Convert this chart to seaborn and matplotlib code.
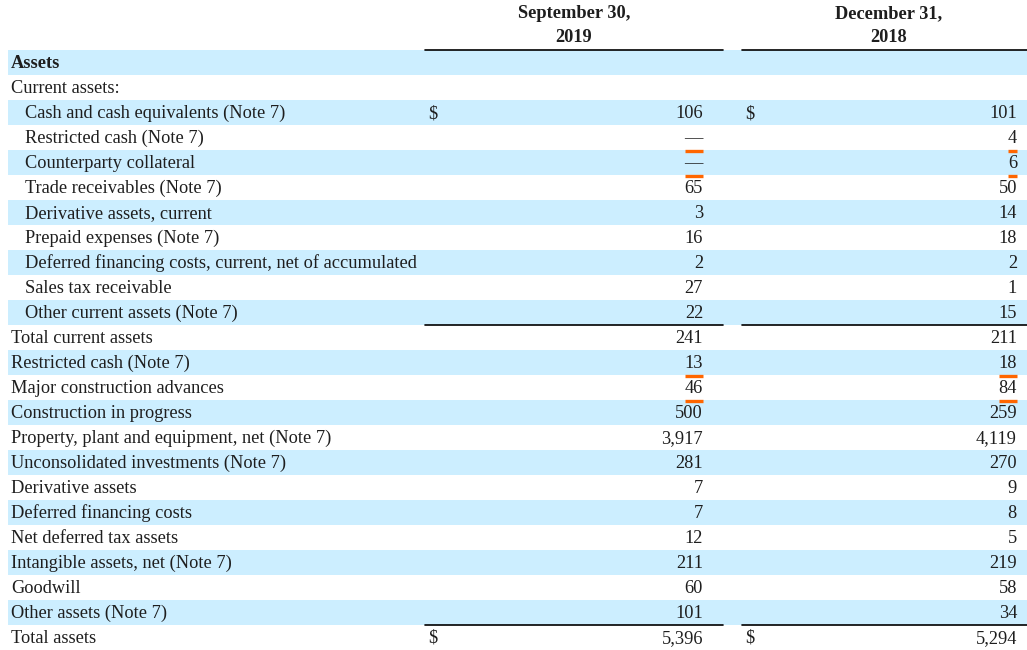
import matplotlib.pyplot as plt
import seaborn as sns

# Balance sheet rows (Assets section)
labels = [
    "Assets",
    "Current assets:",
    "Cash and cash equivalents (Note 7)",
    "Restricted cash (Note 7)",
    "Counterparty collateral",
    "Trade receivables (Note 7)",
    "Derivative assets, current",
    "Prepaid expenses (Note 7)",
    "Deferred financing costs, current, net of accumulated",
    "Sales tax receivable",
    "Other current assets (Note 7)",
    "Total current assets",
    "Restricted cash (Note 7)",
    "Major construction advances",
    "Construction in progress",
    "Property, plant and equipment, net (Note 7)",
    "Unconsolidated investments (Note 7)",
    "Derivative assets",
    "Deferred financing costs",
    "Net deferred tax assets",
    "Intangible assets, net (Note 7)",
    "Goodwill",
    "Other assets (Note 7)",
    "Total assets",
]
sep_2019 = ["", "", "106", "—", "—", "65", "3", "16", "2", "27", "22", "241",
            "13", "46", "500", "3,917", "281", "7", "7", "12", "211", "60", "101", "5,396"]
dec_2018 = ["", "", "101", "4", "6", "50", "14", "18", "2", "1", "15", "211",
            "18", "84", "259", "4,119", "270", "9", "8", "5", "219", "58", "34", "5,294"]
col_heads = [("September 30,", "2019"), ("December 31,", "2018")]

bold_rows = ["Assets"]
dollar_rows = ["Cash and cash equivalents (Note 7)", "Total assets"]
orange_rows = ["Restricted cash (Note 7)", "Counterparty collateral", "Major construction advances"]
ruled_after = ["Other current assets (Note 7)", "Other assets (Note 7)"]

sns.set_theme(style="white")
plt.rcParams["font.family"] = ["Liberation Serif", "DejaVu Serif"]

W, H = 1027, 650
fig = plt.figure(figsize=(W / 100, H / 100), dpi=100)
ax = fig.add_axes([0, 0, 1, 1])
ax.set_xlim(0, W)
ax.set_ylim(H, 0)
ax.axis("off")

blue = "#CCEEFF"
ink = "#1e1e1e"
fs = 13.2
row_h = 25
top = 49.5
cols = [(425, 723, 703), (742, 1027, 1017)]  # left, right, number right edge

start = labels.index("Current assets:")
end = labels.index("Total current assets")

texts_to_underline = []
for i, lab in enumerate(labels):
    y0 = top + i * row_h
    yc = y0 + row_h / 2
    if i % 2 == 0:
        ax.axhspan(y0, y0 + row_h, xmin=8 / W, xmax=1, color=blue, lw=0, zorder=0)
    x = 25 if start < i < end else 11
    ax.text(x, yc + 6, lab, ha="left", va="baseline", fontsize=fs, color=ink,
            fontweight="bold" if lab in bold_rows else "normal")
    for (cl, cr, nx), vals in zip(cols, [sep_2019, dec_2018]):
        v = vals[i]
        if v:
            t = ax.text(nx, yc + 6, v, ha="right", va="baseline", fontsize=fs, color=ink)
            if lab in orange_rows:
                texts_to_underline.append((t, y0 + row_h + 1))
        if lab in dollar_rows:
            ax.text(cl + 3, yc + 6, "$", ha="left", va="baseline", fontsize=fs, color=ink)
        if lab in ruled_after:
            ax.plot([cl, cr], [y0 + row_h, y0 + row_h], color="black", lw=1.2, zorder=3)

# header
for (cl, cr, nx), (h1, h2), cx in zip(cols, col_heads, [574, 889]):
    ax.text(cx, 18, h1, ha="center", va="baseline", fontsize=fs, fontweight="bold", color=ink)
    ax.text(cx, 42, h2, ha="center", va="baseline", fontsize=fs, fontweight="bold", color=ink)
    ax.plot([cl, cr], [top, top], color="black", lw=1.2, zorder=3)

# orange underlines matching the text width
fig.canvas.draw()
renderer = fig.canvas.get_renderer()
inv = ax.transData.inverted()
for t, yb in texts_to_underline:
    bb = t.get_window_extent(renderer)
    (x0, _), (x1, _) = inv.transform([(bb.x0, 0), (bb.x1, 0)])
    ax.plot([x0, x1], [yb, yb], color="#FF6600", lw=2.4, solid_capstyle="butt", zorder=4)

fig.savefig("out.png", dpi=100)
